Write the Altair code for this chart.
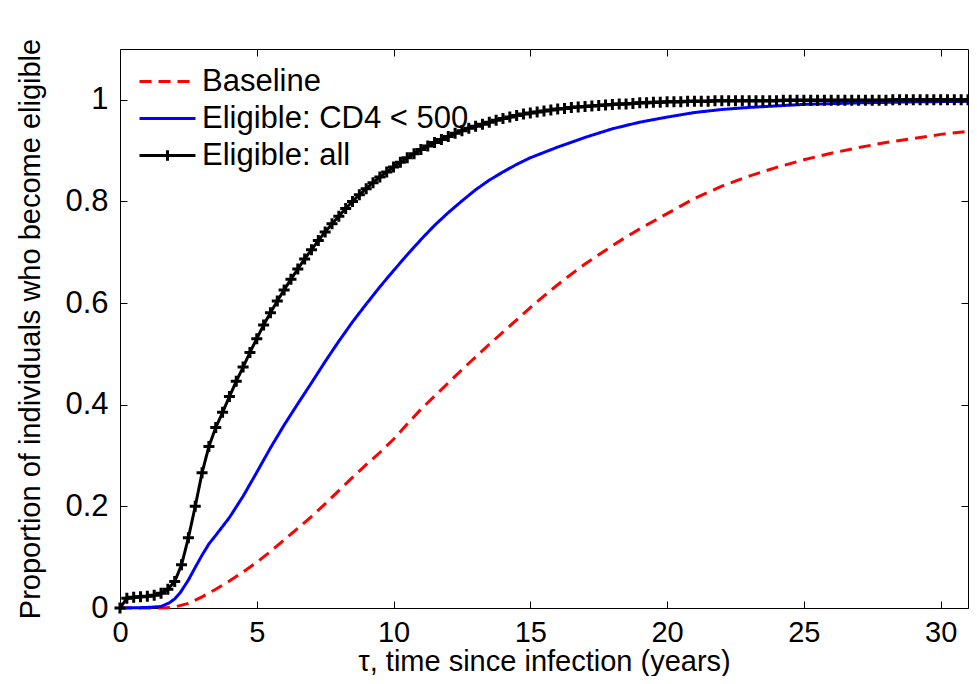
import altair as alt
import pandas as pd

FONT = "Liberation Sans"

series_names = ["Baseline", "Eligible: CD4 < 500", "Eligible: all"]
series_colors = ["#ff0000", "#0000ff", "#000000"]

# Baseline (red dashed)
red_x = [0, 1.6, 2.0, 2.5, 3.0, 3.5, 4.0, 4.5, 5.0, 5.5, 6.0, 6.5, 7.0, 7.5, 8.0, 8.5,
         9.0, 9.5, 10.0, 10.5, 11.0, 11.5, 12.0, 12.5, 13.0, 13.5, 14.0, 14.5, 15.0,
         15.5, 16.0, 16.5, 17.0, 17.5, 18.0, 18.5, 19.0, 19.5, 20.0, 21.0, 22.0, 23.0,
         24.0, 25.0, 26.0, 27.0, 28.0, 29.0, 30.0, 31.0]
red_y = [0, 0, 0.002, 0.009, 0.022, 0.037, 0.053, 0.071, 0.090, 0.111, 0.134, 0.157,
         0.180, 0.205, 0.231, 0.257, 0.282, 0.306, 0.332, 0.362, 0.391, 0.417, 0.443,
         0.469, 0.494, 0.519, 0.543, 0.567, 0.591, 0.614, 0.636, 0.657, 0.677, 0.695,
         0.713, 0.730, 0.746, 0.761, 0.776, 0.806, 0.830, 0.850, 0.867, 0.882, 0.895,
         0.906, 0.916, 0.924, 0.932, 0.938]

# Eligible: CD4 < 500 (blue solid)
blue_x = [0, 1.0, 1.5, 1.8, 2.0, 2.2, 2.5, 2.75, 3.0, 3.25, 3.5, 4.0, 4.5, 5.0, 5.5,
          6.0, 6.5, 7.0, 7.5, 8.0, 8.5, 9.0, 9.5, 10.0, 10.5, 11.0, 11.5, 12.0, 12.5,
          13.0, 13.5, 14.0, 14.5, 15.0, 16.0, 17.0, 18.0, 19.0, 20.0, 21.0, 22.0, 23.0,
          24.0, 25.0, 27.0, 29.0, 31.0]
blue_y = [0, 0.001, 0.003, 0.010, 0.018, 0.030, 0.055, 0.080, 0.104, 0.126, 0.143,
          0.178, 0.220, 0.267, 0.315, 0.360, 0.402, 0.443, 0.485, 0.525, 0.563, 0.598,
          0.632, 0.664, 0.695, 0.725, 0.753, 0.778, 0.801, 0.823, 0.842, 0.858, 0.873,
          0.886, 0.907, 0.926, 0.943, 0.956, 0.966, 0.975, 0.981, 0.985, 0.988, 0.991,
          0.994, 0.996, 0.997]

# Eligible: all (black with + markers), sampled every 0.25 years
black_y = [0.000, 0.019, 0.021, 0.022, 0.023, 0.025, 0.029, 0.037, 0.052, 0.085,
           0.138, 0.200, 0.266, 0.318, 0.355, 0.385, 0.416, 0.446, 0.474, 0.503,
           0.530, 0.557, 0.581, 0.604, 0.626, 0.647, 0.667, 0.687, 0.705, 0.723,
           0.740, 0.756, 0.771, 0.786, 0.800, 0.813, 0.825, 0.837, 0.848, 0.858,
           0.868, 0.877, 0.886, 0.894, 0.902, 0.909, 0.916, 0.922, 0.928, 0.934,
           0.939, 0.944, 0.948, 0.952, 0.956, 0.960, 0.963, 0.966, 0.969, 0.972,
           0.974, 0.976, 0.978, 0.980, 0.982, 0.983, 0.985, 0.986, 0.987, 0.988,
           0.989, 0.990, 0.991, 0.992, 0.992, 0.993, 0.994, 0.994, 0.995, 0.995,
           0.996, 0.996, 0.996, 0.997, 0.997, 0.997, 0.997, 0.998, 0.998, 0.998,
           0.998, 0.998, 0.998, 0.998, 0.998, 0.998, 0.998, 0.999, 0.999, 0.999,
           0.999, 0.999, 0.999, 0.999, 0.999, 0.999, 0.999, 0.999, 0.999, 0.999,
           0.999, 0.999, 0.999, 1.000, 1.000, 1.000, 1.000, 1.000, 1.000, 1.000,
           1.000, 1.000, 1.000, 1.000, 1.000]
black_step = 0.25
black_x = [i * black_step for i in range(len(black_y))]

x_ticks = [0, 5, 10, 15, 20, 25, 30]
y_ticks = [0, 0.2, 0.4, 0.6, 0.8, 1.0]
x_domain = [0, 31]
y_domain = [0, 1.1]

df = pd.concat([
    pd.DataFrame({"x": red_x, "y": red_y, "series": series_names[0]}),
    pd.DataFrame({"x": blue_x, "y": blue_y, "series": series_names[1]}),
    pd.DataFrame({"x": black_x, "y": black_y, "series": series_names[2]}),
], ignore_index=True)
df_black = df[df["series"] == series_names[2]]

xscale = alt.Scale(domain=x_domain, nice=False, zero=False)
yscale = alt.Scale(domain=y_domain, nice=False, zero=False)
color_scale = alt.Scale(domain=series_names, range=series_colors)
dash_scale = alt.Scale(domain=series_names, range=[[12, 7], [1, 0], [1, 0]])
legend_shapes = ["M-3,0H3", "M-3,0H3", "M-3,0H3M0,-0.55V0.55"]
shape_scale = alt.Scale(domain=series_names, range=legend_shapes)

common_axis = dict(grid=False, domain=False, offset=-7, tickSize=7, tickColor="black",
                   tickWidth=1, labelFont=FONT, labelColor="black", titleFont=FONT,
                   titleColor="black", titleFontWeight="normal", labelFlush=False)

bottom_axis = alt.Axis(orient="bottom", values=x_ticks, labelFontSize=29, labelPadding=10,
                       title="τ, time since infection (years)", titleFontSize=29,
                       titleBaseline="alphabetic", titleAlign="center",
                       titleX=424, titleY=69, **common_axis)
left_axis = alt.Axis(orient="left", values=y_ticks, labelFontSize=31, labelPadding=12,
                     format="~g", title="Proportion of individuals who become eligible",
                     titleFontSize=29, titleAngle=270, titleBaseline="middle",
                     titleX=-97, titleY=279.5, **common_axis)
top_axis = alt.Axis(orient="top", values=x_ticks, labels=False, title=None, **common_axis)
right_axis = alt.Axis(orient="right", values=y_ticks, labels=False, title=None, **common_axis)

legend = alt.Legend(
    title=None, orient="none", legendX=32, legendY=17, padding=0,
    symbolSize=348, symbolStrokeWidth=3, symbolOpacity=1,
    symbolFillColor="transparent",
    labelFont=FONT, labelFontSize=31, labelColor="black", labelOffset=19,
    rowPadding=5, labelLimit=0,
)

legend_layer = alt.Chart(df).mark_point(
    filled=False, strokeWidth=3, size=348, opacity=0,
).encode(
    x=alt.X("x:Q", scale=xscale, axis=None),
    y=alt.Y("y:Q", scale=yscale, axis=None),
    color=alt.Color("series:N", scale=color_scale, legend=legend, sort=series_names),
    strokeDash=alt.StrokeDash("series:N", scale=dash_scale, legend=legend, sort=series_names),
    shape=alt.Shape("series:N", scale=shape_scale, legend=legend, sort=series_names),
)

lines = alt.Chart(df).mark_line(strokeWidth=3).encode(
    x=alt.X("x:Q", scale=xscale, axis=bottom_axis),
    y=alt.Y("y:Q", scale=yscale, axis=left_axis),
    color=alt.Color("series:N", scale=color_scale, legend=legend, sort=series_names),
    strokeDash=alt.StrokeDash("series:N", scale=dash_scale, legend=legend, sort=series_names),
    order=alt.Order("x:Q"),
)

markers = alt.Chart(df_black).mark_point(
    shape="M-1,0H1M0,-1V1", size=121, filled=False, strokeWidth=3,
    color="black", opacity=1,
).encode(
    x=alt.X("x:Q", scale=xscale, axis=None),
    y=alt.Y("y:Q", scale=yscale, axis=None),
)

frame_axes = alt.Chart(df_black).mark_point(opacity=0).encode(
    x=alt.X("x:Q", scale=xscale, axis=top_axis),
    y=alt.Y("y:Q", scale=yscale, axis=right_axis),
)

chart = alt.layer(legend_layer, lines, markers, frame_axes).resolve_axis(
    x="independent", y="independent"
).properties(
    width=848, height=559,
    autosize=alt.AutoSizeParams(type="none"),
    padding={"left": 112, "top": 41, "right": 1, "bottom": 68},
    background="white",
).configure_view(stroke="black", strokeWidth=1)

chart.save("out.html", embed_options={"renderer": "svg", "actions": False})
